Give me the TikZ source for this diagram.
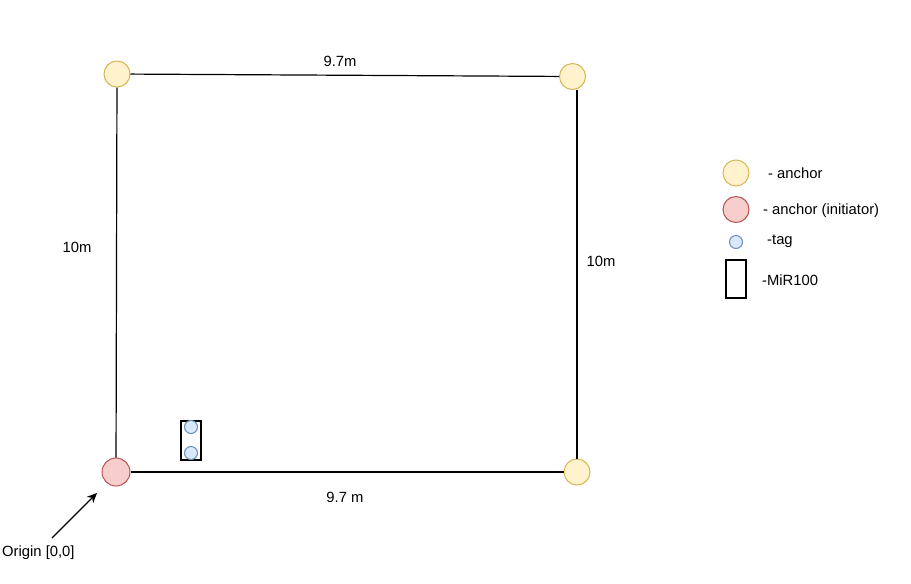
\documentclass[tikz,border=0pt]{standalone}
\usepackage{fontspec}
\setmainfont{Liberation Sans}
\usetikzlibrary{arrows.meta}
\definecolor{ancfill}{HTML}{FFF2CC}
\definecolor{ancline}{HTML}{D6B656}
\definecolor{inifill}{HTML}{F8CECC}
\definecolor{iniline}{HTML}{B85450}
\definecolor{tagfill}{HTML}{DAE8FC}
\definecolor{tagline}{HTML}{6C8EBF}
\begin{document}
\begin{tikzpicture}[x=1pt,y=-1pt,
  every node/.style={font=\fontsize{14.8}{17}\selectfont},
  anchorpt/.style={circle, draw=ancline, fill=ancfill, line width=1pt, minimum size=26pt, inner sep=0pt},
  initpt/.style={circle, draw=iniline, fill=inifill, line width=1pt, minimum size=28pt, inner sep=0pt},
  tagpt/.style={circle, draw=tagline, fill=tagfill, line width=1pt, minimum size=13pt, inner sep=0pt},
  mirbox/.style={draw=black, line width=1.2pt, minimum width=20pt, minimum height=39pt, inner sep=0pt},
  edge/.style={draw=black, line width=1.2pt},
  lbl/.style={inner sep=0pt, anchor=center},
  lgd/.style={inner sep=0pt, anchor=west}]
\useasboundingbox (0,0) rectangle (911,584);
% anchors
\node[anchorpt] (tl) at (117,74) {};
\node[anchorpt] (tr) at (572.5,76.5) {};
\node[anchorpt] (br) at (577,472) {};
\node[initpt] (bl) at (116,472) {};
% edges
\draw[edge] (tl) -- (tr);
\draw[edge] (tl) -- (bl);
\draw[edge] (bl) -- (br);
\draw[edge] (tr.south -| br.north) -- (br.north);
% edge labels
\node[lbl] (ltop) at (340,61) {9.7m};
\node[lbl] (lleft) at (77,247) {10m};
\node[lbl] (lright) at (601,261) {10m};
\node[lbl] (lbot) at (345,497) {9.7 m};
% robot
\node[mirbox] (mir) at (191,440.5) {};
\node[tagpt] (t1) at (191,427) {};
\node[tagpt] (t2) at (191,453) {};
% origin
\node[lgd] (orig) at (2,553) {Origin [0,0]};
\coordinate (arrstart) at (52,538);
\coordinate (arrend) at (97,493);
\draw[edge, -{Stealth[length=10pt,width=9pt]}] (arrstart) -- (arrend);
% legend
\node[anchorpt] (g1) at (736,173) {};
\node[lgd] (g1t) at (768,173) {- anchor};
\node[initpt, minimum size=26pt] (g2) at (736,209.5) {};
\node[lgd] (g2t) at (763,211) {- anchor (initiator)};
\node[tagpt] (g3) at (736,242) {};
\node[lgd] (g3t) at (767,241.5) {-tag};
\node[mirbox, minimum height=38pt] (g4) at (736,279) {};
\node[lgd] (g4t) at (762,280) {-MiR100};
\end{tikzpicture}
\end{document}
